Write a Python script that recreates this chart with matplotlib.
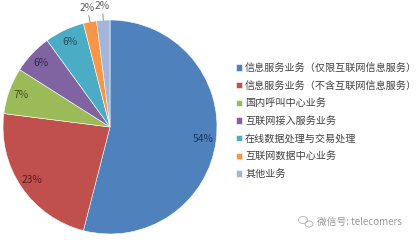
import numpy as np
import matplotlib
matplotlib.use("Agg")
import matplotlib.pyplot as plt
from matplotlib.patches import Ellipse

plt.rcParams['font.family'] = ['Noto Sans CJK SC', 'DejaVu Sans']

categories = [
    "信息服务业务（仅限互联网信息服务）",
    "信息服务业务（不含互联网信息服务）",
    "国内呼叫中心业务",
    "互联网接入服务业务",
    "在线数据处理与交易处理",
    "互联网数据中心业务",
    "其他业务",
]
shares = [54, 23, 7, 6, 6, 2, 2]
pct_labels = ["54%", "23%", "7%", "6%", "6%", "2%", "2%"]
colors = ["#4F81BD", "#C0504D", "#9BBB59", "#8064A2", "#4BACC6", "#F79646", "#A3B5DB"]
label_colors = ["#1B3558", "#5A1D1B", "#3E4F1F", "#352650", "#1E4D5A", "#595959", "#595959"]
outside = [False, False, False, False, False, True, True]

W, H = 419, 240
fig = plt.figure(figsize=(W / 100, H / 100), dpi=100)
fig.patch.set_facecolor("white")

# pie area: centre (110, 127) px, radius 107 px
cx, cy, r = 110, 127, 107
ax = fig.add_axes([(cx - r) / W, (H - cy - r) / H, 2 * r / W, 2 * r / H])
wedges, _ = ax.pie(shares, colors=colors, startangle=90, counterclock=False,
                   radius=1.0, wedgeprops=dict(edgecolor="white", linewidth=0.4))
ax.set_xlim(-1, 1)
ax.set_ylim(-1, 1)
ax.set_aspect("auto")
ax.axis("off")

for w, txt, col, out in zip(wedges, pct_labels, label_colors, outside):
    mid = np.deg2rad((w.theta1 + w.theta2) / 2)
    ux, uy = np.cos(mid), np.sin(mid)
    if out:
        ax.plot([ux * 1.0, ux * 1.06], [uy * 1.0, uy * 1.06], color="#7f7f7f", lw=0.6,
                clip_on=False)
        ax.text(ux * 1.13, uy * 1.13, txt, ha="center", va="center", fontsize=7.4,
                color=col, clip_on=False)
    else:
        ax.text(ux * 0.88, uy * 0.88, txt, ha="center", va="center", fontsize=7.4,
                color=col)

leg = fig.legend(wedges, categories, loc="upper left",
                 bbox_to_anchor=(231 / W, 1 - 58 / H), frameon=False,
                 fontsize=7.25, handlelength=0.6, handleheight=0.6,
                 handletextpad=0.3, labelspacing=0.76, borderpad=0,
                 labelcolor="#404040")

# account tag in the lower right
fig.text(317 / W, 1 - 222 / H, "微信号: telecomers", fontsize=7, color="#9a9a9a",
         ha="left", va="center")
fig.patches.append(Ellipse((303 / W, 1 - 220 / H), 9 / W, 7 / H, fill=False,
                           edgecolor="#b0b0b0", lw=0.6, transform=fig.transFigure))
fig.patches.append(Ellipse((309 / W, 1 - 224 / H), 8 / W, 6 / H, fill=False,
                           edgecolor="#b0b0b0", lw=0.6, transform=fig.transFigure))

fig.savefig("out.png", dpi=100, facecolor="white")
